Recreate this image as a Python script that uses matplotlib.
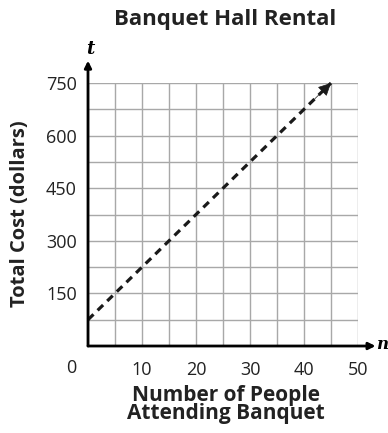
import numpy as np
import matplotlib.pyplot as plt

plt.rcParams['font.family'] = ['Open Sans', 'DejaVu Sans']

# data
people = [0, 45]
cost = [75, 750]
x_ticks = [10, 20, 30, 40, 50]
y_ticks = [150, 300, 450, 600, 750]

fig = plt.figure(figsize=(3.88, 4.33), dpi=100)
ax = fig.add_axes([0.2268, 0.2009, 0.6959, 0.6074])

ax.set_xlim(0, 50)
ax.set_ylim(0, 750)
ax.set_xticks(np.arange(0, 51, 5))
ax.set_yticks(np.arange(0, 751, 75))
ax.grid(True, color='#a8a8a8', linewidth=1.0)
ax.set_axisbelow(True)
ax.tick_params(length=0, labelsize=13, labelcolor='#222222')
ax.tick_params(axis='y', pad=8)
ax.tick_params(axis='x', pad=11)
ax.set_xticklabels([str(v) if v in x_ticks else '' for v in np.arange(0, 51, 5)])
ax.set_yticklabels([str(v) if v in y_ticks else '' for v in np.arange(0, 751, 75)])
for s in ax.spines.values():
    s.set_visible(False)

# axis arrows
ax.annotate('', xy=(0, 1.085), xytext=(0, 0), xycoords='axes fraction',
            arrowprops=dict(arrowstyle='-|>', color='black', lw=2,
                            mutation_scale=10, shrinkA=0, shrinkB=0))
ax.annotate('', xy=(1.065, 0), xytext=(0, 0), xycoords='axes fraction',
            arrowprops=dict(arrowstyle='-|>', color='black', lw=2,
                            mutation_scale=10, shrinkA=0, shrinkB=0))
ax.text(0.008, 1.13, 't', transform=ax.transAxes, fontsize=13, fontweight='bold',
        style='italic', family='DejaVu Serif', ha='center', va='center')
ax.text(1.088, 0.005, 'n', transform=ax.transAxes, fontsize=12, fontweight='bold',
        style='italic', family='DejaVu Serif', ha='center', va='center')
ax.text(-0.063, -0.085, '0', transform=ax.transAxes, fontsize=13,
        color='#222222', ha='center', va='center')

# cost line
ax.plot(people, cost, color='#1a1a1a', lw=2.3, linestyle=(0, (2.4, 1.8)),
        clip_on=False, solid_capstyle='butt')
ax.annotate('', xy=(people[1], cost[1]),
            xytext=(people[1] - 3, cost[1] - 45),
            arrowprops=dict(arrowstyle='-|>', color='#1a1a1a', lw=0.5,
                            mutation_scale=20, shrinkA=0, shrinkB=0))

fig.text(0.579, 0.942, 'Banquet Hall Rental', fontsize=16, fontweight='bold',
         color='#222222', ha='center', va='baseline')
fig.text(0.052, 0.507, 'Total Cost (dollars)', fontsize=14.5, fontweight='bold',
         color='#222222', rotation=90, ha='center', va='center')
fig.text(0.582, 0.066, 'Number of People\nAttending Banquet', fontsize=15,
         fontweight='bold', color='#222222', ha='center', va='center',
         linespacing=0.85)

fig.savefig('out.png', dpi=100)
